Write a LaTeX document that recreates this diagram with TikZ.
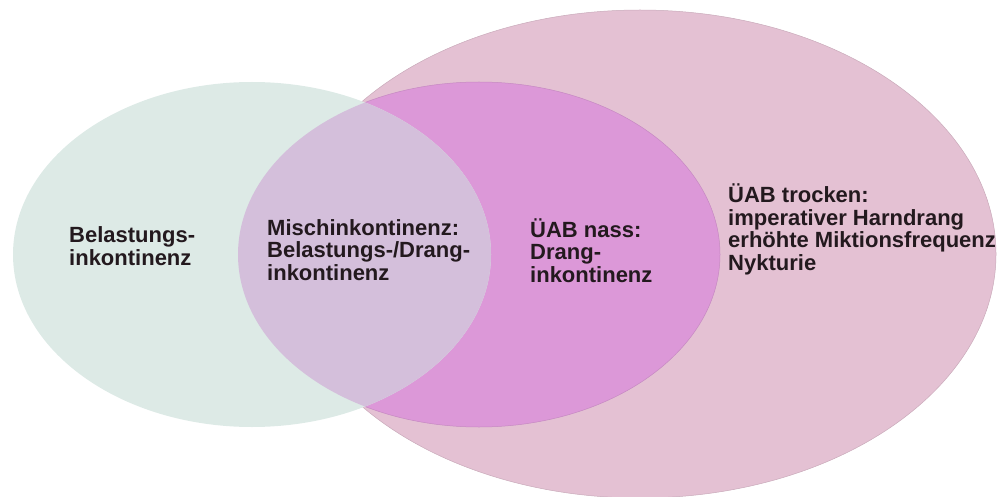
\documentclass[tikz,border=0pt]{standalone}
\usepackage{fontspec}
\setmainfont{Liberation Sans}
\definecolor{stresscol}{RGB}{221,234,230}
\definecolor{urgecol}{RGB}{220,152,216}
\definecolor{drycol}{RGB}{228,193,211}
\definecolor{mixcol}{RGB}{212,191,219}
\definecolor{txtcol}{RGB}{35,25,30}
\begin{document}
\begin{tikzpicture}[x=1pt,y=-1pt,
    lbl/.style={align=left,anchor=base west,inner sep=0pt,
      font=\fontsize{22}{22.5}\selectfont\bfseries,text=txtcol}]
  \useasboundingbox (0,0) rectangle (998,497);
  % the three sets
  \fill[drycol,draw=drycol!88!black,line width=0.5pt] (640,254) ellipse (356 and 244);
  \fill[urgecol,draw=urgecol!90!black,line width=0.5pt] (479,254.5) ellipse (241 and 172.5);
  \fill[stresscol] (252,254.5) ellipse (239 and 172.5);
  \begin{scope}
    \clip (252,254.5) ellipse (239 and 172.5);
    \fill[mixcol] (479,254.5) ellipse (241 and 172.5);
  \end{scope}
  % labels (placed at the baseline of their last line)
  \node[lbl] (stress) at (69,265) {Belastungs-\\inkontinenz};
  \node[lbl] (mixed) at (267,280) {Mischinkontinenz:\\Belastungs-/Drang-\\inkontinenz};
  \node[lbl] (wet) at (530,282) {ÜAB nass:\\Drang-\\inkontinenz};
  \node[lbl] (dry) at (728,270) {ÜAB trocken:\\imperativer Harndrang\\erhöhte Miktionsfrequenz\\Nykturie};
\end{tikzpicture}
\end{document}
